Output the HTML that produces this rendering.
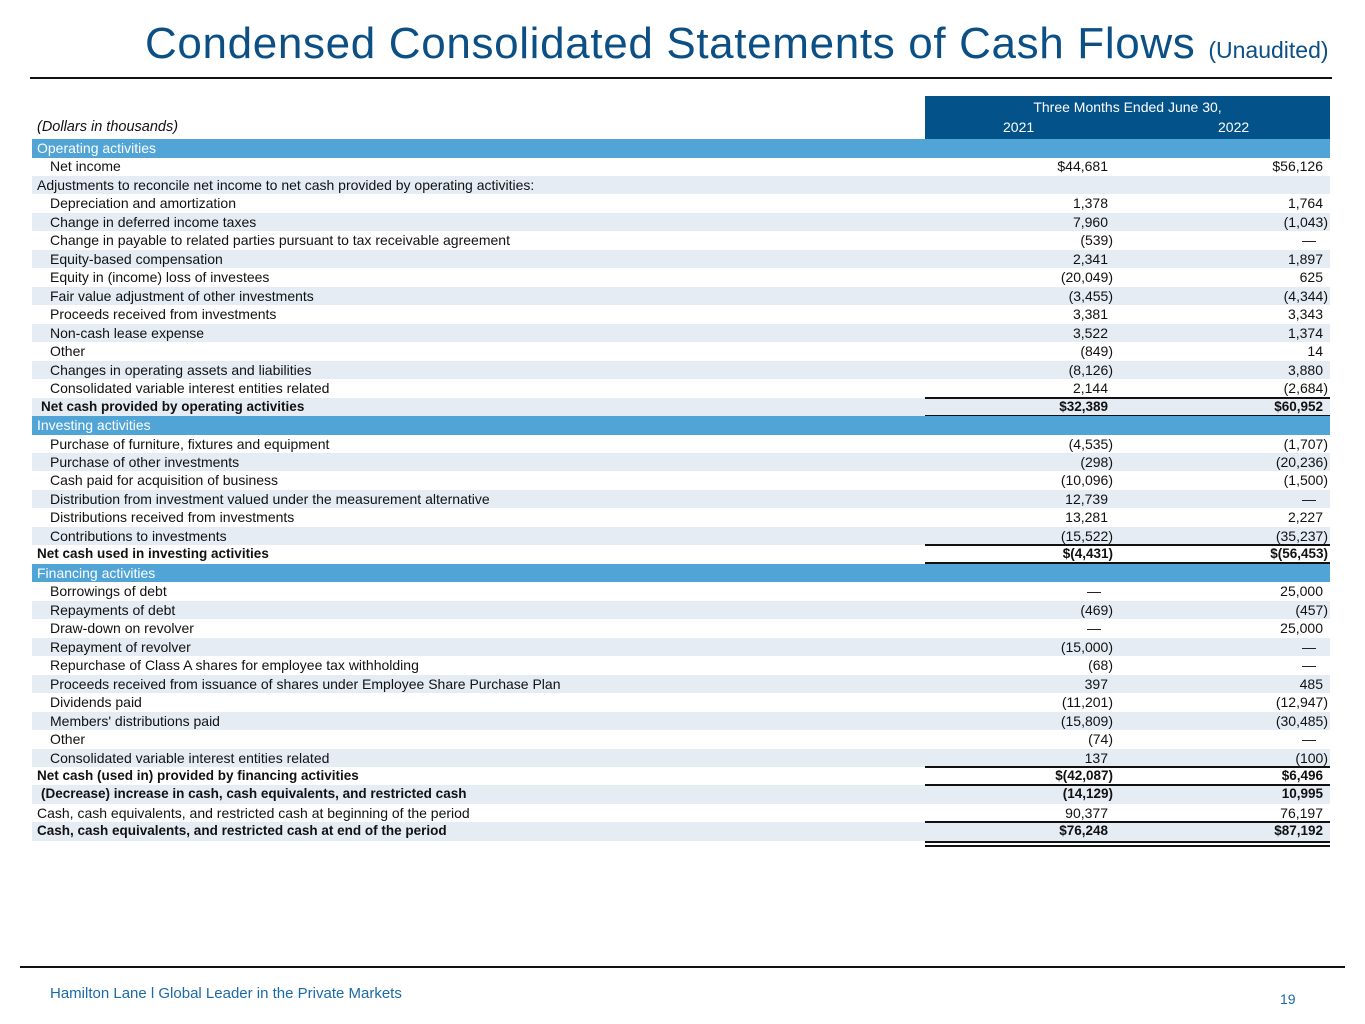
<!DOCTYPE html>
<html><head><meta charset="utf-8"><style>
body{margin:0;width:1365px;height:1024px;background:#fff;position:relative;overflow:hidden;font-family:"Liberation Sans",Arial,sans-serif;}
.abs{position:absolute}
.row{position:absolute;left:32px;width:1298px;height:18.5px;font-size:14px;line-height:18.5px;color:#111;white-space:nowrap}
.lbl{position:absolute;left:5px;top:0}
.v1,.v2{position:absolute;top:0;text-align:right}
.v1{right:217px}.v2{right:2px}
.sec{background:#50a4d6;color:#fff}
.alt{background:#e5ecf4}
.b{font-weight:bold;font-size:13.5px}
.tl{position:absolute;left:893px;width:405px;border-top:2px solid #111}
</style></head><body>
<div class="abs" style="left:145px;top:19px;font-size:44px;letter-spacing:0.65px;color:#0b4f85;white-space:nowrap">Condensed Consolidated Statements of Cash Flows <span style="font-size:23px;letter-spacing:0">(Unaudited)</span></div>
<div class="abs" style="left:30px;top:77px;width:1302px;height:2px;background:#111"></div>
<div class="abs" style="left:925px;top:96px;width:405px;height:43px;background:#03528a;color:#fff;font-size:14px">
<div style="position:absolute;top:3px;width:100%;text-align:center">Three Months Ended June 30,</div>
<div style="position:absolute;top:23px;left:78px">2021</div>
<div style="position:absolute;top:23px;left:293px">2022</div>
</div>
<div class="abs" style="left:37px;top:119px;font-size:14.5px;font-style:italic;color:#111">(Dollars in thousands)</div>
<div id="tbl"></div>
<div class="abs" style="left:20px;top:966px;width:1325px;height:2px;background:#111"></div>
<div class="abs" style="left:50px;top:985px;font-size:15px;color:#1a6aa8">Hamilton Lane l Global Leader in the Private Markets</div>
<div class="abs" style="left:1280px;top:991px;font-size:14px;color:#1a6aa8">19</div>
<script>
// type: s=section, i=item, h=heading(no indent), t=total (bold)
const labels=["Operating activities","Net income","Adjustments to reconcile net income to net cash provided by operating activities:","Depreciation and amortization","Change in deferred income taxes","Change in payable to related parties pursuant to tax receivable agreement","Equity-based compensation","Equity in (income) loss of investees","Fair value adjustment of other investments","Proceeds received from investments","Non-cash lease expense","Other","Changes in operating assets and liabilities","Consolidated variable interest entities related","Net cash provided by operating activities","Investing activities","Purchase of furniture, fixtures and equipment","Purchase of other investments","Cash paid for acquisition of business","Distribution from investment valued under the measurement alternative","Distributions received from investments","Contributions to investments","Net cash used in investing activities","Financing activities","Borrowings of debt","Repayments of debt","Draw-down on revolver","Repayment of revolver","Repurchase of Class A shares for employee tax withholding","Proceeds received from issuance of shares under Employee Share Purchase Plan","Dividends paid","Members' distributions paid","Other","Consolidated variable interest entities related","Net cash (used in) provided by financing activities","(Decrease) increase in cash, cash equivalents, and restricted cash","Cash, cash equivalents, and restricted cash at beginning of the period","Cash, cash equivalents, and restricted cash at end of the period"];
const types=["s","i","h","i","i","i","i","i","i","i","i","i","i","i","t","s","i","i","i","i","i","i","t","s","i","i","i","i","i","i","i","i","i","i","t","t","h","t"];
const y2021=["","$44,681","","1,378","7,960","(539)","2,341","(20,049)","(3,455)","3,381","3,522","(849)","(8,126)","2,144","$32,389","","(4,535)","(298)","(10,096)","12,739","13,281","(15,522)","$(4,431)","","—","(469)","—","(15,000)","(68)","397","(11,201)","(15,809)","(74)","137","$(42,087)","(14,129)","90,377","$76,248"];
const y2022=["","$56,126","","1,764","(1,043)","—","1,897","625","(4,344)","3,343","1,374","14","3,880","(2,684)","$60,952","","(1,707)","(20,236)","(1,500)","—","2,227","(35,237)","$(56,453)","","25,000","(457)","25,000","—","—","485","(12,947)","(30,485)","—","(100)","$6,496","10,995","76,197","$87,192"];
const tbl=document.getElementById('tbl');
const top0=139,rh=18.47;
let alt=false;
labels.forEach((lab,i)=>{
  const r=document.createElement('div');
  
  
  let cls='row';
  if(types[i]==='s'){cls+=' sec';alt=false;}
  else{ if(alt)cls+=' alt'; alt=!alt; }
  if(types[i]==='t')cls+=' b';
  r.className=cls;
  r.style.top=(top0+i*rh)+'px';
  const l=document.createElement('div');
  
  
  l.className='lbl';
  l.textContent=lab;
  if(types[i]==='i')l.style.left='18px';
  if(i===14||i===35)l.style.left='9px';
  r.appendChild(l);
  [[y2021[i],'v1'],[y2022[i],'v2']].forEach(([v,c])=>{
    if(!v)return;
    const d=document.createElement('div');
    
    
    d.className=c;
    d.textContent=v;
    if(!v.endsWith(')')){
      if(v==='—') d.style.marginRight='7px';
      d.style.paddingRight='5px';
    }
    r.appendChild(d);
  });
  if(types[i]==='t'){
    const t=document.createElement('div');
    
    
    t.className='tl';t.style.top='-1px';
    r.appendChild(t);
    if(i===14||i===22){
      const t2=document.createElement('div');
      
      
      t2.className='tl';t2.style.top='17px';
      r.appendChild(t2);
    }
    if(i===37){
      const t3=document.createElement('div');
      
      
      t3.className='tl';t3.style.top='19px';t3.style.height='2px';t3.style.borderBottom='2px solid #111';
      r.appendChild(t3);
    }
  }
  tbl.appendChild(r);
});
</script>
</body></html>
